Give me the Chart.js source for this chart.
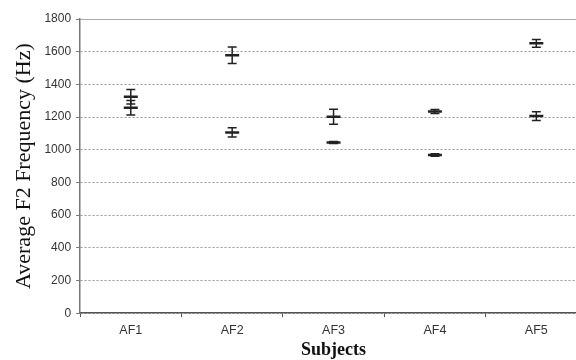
<!DOCTYPE html>
<html lang="en">
<head>
  <meta charset="UTF-8">
  <title>Average F2 Frequency</title>
  <script src="https://cdn.jsdelivr.net/npm/chart.js"></script>
  <style>
    html, body { margin: 0; padding: 0; background: #fff; overflow: hidden; }
    #wrap { width: 600px; height: 360px; }
  </style>
</head>
<body>
<div id="wrap"><canvas id="f2Chart" width="600" height="360"></canvas></div>

<script>
  // values
  const subjects = ['AF1', 'AF2', 'AF3', 'AF4', 'AF5'];
  const upperMean = [1324, 1578, 1202, 1234, 1651];
  const upperErr  = [44, 50, 46, 12, 24];
  const lowerMean = [1257, 1106, 1045, 968, 1206];
  const lowerErr  = [45, 28, 6, 7, 27];
  const yTicks = [0, 200, 400, 600, 800, 1000, 1200, 1400, 1600, 1800];

  const ink = '#222';

  // simple error bar drawing, values converted through the y scale
  const errorBars = {
    id: 'errorBars',
    afterDatasetsDraw(chart) {
      const ctx = chart.ctx;
      const y = chart.scales.y;
      chart.data.datasets.forEach((ds, di) => {
        const meta = chart.getDatasetMeta(di);
        meta.data.forEach((pt, i) => {
          const v = ds.data[i];
          const e = ds.errors[i];
          const yTop = y.getPixelForValue(v + e);
          const yBot = y.getPixelForValue(v - e);
          ctx.save();
          ctx.strokeStyle = ink;
          ctx.lineWidth = 1.5;
          ctx.beginPath();
          ctx.moveTo(pt.x, yTop);
          ctx.lineTo(pt.x, yBot);
          ctx.moveTo(pt.x - 4.5, yTop);
          ctx.lineTo(pt.x + 4.5, yTop);
          ctx.moveTo(pt.x - 4.5, yBot);
          ctx.lineTo(pt.x + 4.5, yBot);
          ctx.stroke();
          ctx.restore();
        });
      });
    }
  };

  const pointStyle = {
    showLine: false,
    pointStyle: 'line',
    pointRadius: 7,
    pointHoverRadius: 7,
    pointBorderWidth: 2.5,
    borderColor: ink,
    backgroundColor: ink
  };

  new Chart(document.getElementById('f2Chart'), {
    type: 'line',
    data: {
      labels: subjects,
      datasets: [
        Object.assign({ label: 'Upper', data: upperMean, errors: upperErr }, pointStyle),
        Object.assign({ label: 'Lower', data: lowerMean, errors: lowerErr }, pointStyle)
      ]
    },
    options: {
      responsive: false,
      animation: false,
      layout: { padding: { top: 19, right: 13, left: 11, bottom: 0 } },
      plugins: { legend: { display: false }, tooltip: { enabled: false } },
      scales: {
        x: {
          type: 'category',
          offset: true,
          grid: {
            offset: true,
            drawOnChartArea: false,
            drawTicks: true,
            tickLength: 4,
            tickColor: '#555'
          },
          border: { color: '#555', width: 1.5 },
          ticks: { color: '#333', font: { family: 'Liberation Sans', size: 12.5 }, padding: 6 },
          title: {
            display: true,
            text: 'Subjects',
            color: '#111',
            font: { family: 'Liberation Serif', size: 18, weight: 'bold', lineHeight: 1.1 },
            padding: { top: -4, bottom: 0 }
          }
        },
        y: {
          min: 0,
          max: 1800,
          afterBuildTicks(scale) { scale.ticks = yTicks.map(v => ({ value: v })); },
          grid: {
            color: ctx => ctx.tick && ctx.tick.value === 1800 ? '#aaa' : '#999',
            lineWidth: 1,
            tickLength: 4,
            tickColor: '#777'
          },
          border: {
            color: '#777',
            width: 1.5,
            dash: ctx => ctx.tick && ctx.tick.value === 1800 ? [] : [2, 2]
          },
          ticks: {
            color: '#333',
            font: { family: 'Liberation Sans', size: 12 },
            padding: 5,
            callback: v => String(v)
          },
          title: {
            display: true,
            text: 'Average F2 Frequency (Hz)',
            color: '#111',
            font: { family: 'Liberation Serif', size: 22 },
            padding: { top: 0, bottom: 2 }
          }
        }
      }
    },
    plugins: [errorBars]
  });
</script>
</body>
</html>
